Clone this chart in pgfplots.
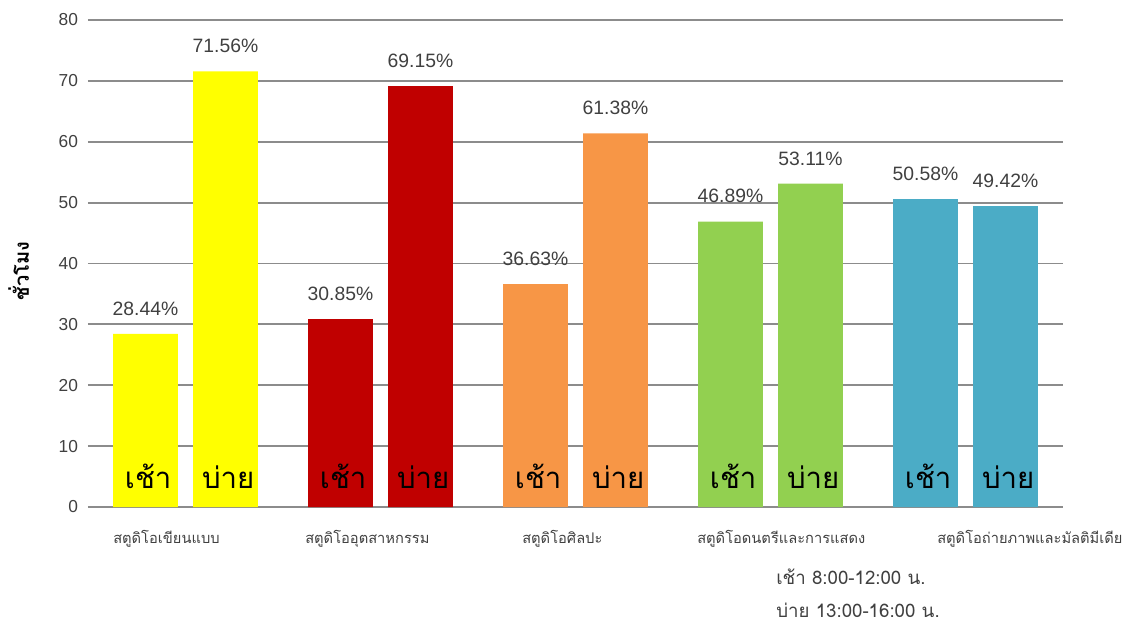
\documentclass[border=0pt]{standalone}
\usepackage{pgfplots}
\pgfplotsset{compat=1.18}
\usepackage{fontspec}
\setmainfont{Liberation Sans}
\newfontfamily\thaifont[Script=Thai]{Loma}
\definecolor{cY}{HTML}{FFFF00}
\definecolor{cR}{HTML}{C00000}
\definecolor{cO}{HTML}{F79646}
\definecolor{cG}{HTML}{92D050}
\definecolor{cT}{HTML}{4BACC6}
\definecolor{gridc}{HTML}{8C8C8C}
\definecolor{txt}{HTML}{404040}
\begin{document}
\begin{tikzpicture}
\useasboundingbox (-66pt,-89.25pt) rectangle (794.25pt,380.25pt);
\begin{axis}[
  at={(0pt,0pt)}, anchor=south west,
  scale only axis, width=731.25pt, height=365.25pt,
  xmin=0.5, xmax=5.5, ymin=0, ymax=80,
  ytick={0,10,...,80}, xtick=\empty,
  ymajorgrids, major grid style={gridc, line width=1.4pt},
  axis line style={draw=none}, major tick length=0pt,
  /pgf/number format/assume math mode=true,
  yticklabel style={font=\fontsize{13}{15}\selectfont, text=txt, xshift=-4pt},
  ybar, bar width=0.333, bar shift=0pt,
  clip=false,
  nodes near coords={\pgfmathprintnumber[fixed,fixed zerofill,precision=2,assume math mode=true]{\pgfplotspointmeta}\%},
  nodes near coords style={anchor=base, yshift=14pt, font=\fontsize{14.5}{16}\selectfont, text=txt},
]
\addplot[draw=none, fill=cY] coordinates {(0.795,28.44) (1.205,71.56)};
\addplot[draw=none, fill=cR] coordinates {(1.795,30.85) (2.205,69.15)};
\addplot[draw=none, fill=cO] coordinates {(2.795,36.63) (3.205,61.38)};
\addplot[draw=none, fill=cG] coordinates {(3.795,46.89) (4.205,53.11)};
\addplot[draw=none, fill=cT] coordinates {(4.795,50.58) (5.205,49.42)};
\pgfplotsinvokeforeach{1,2,3,4,5}{
  \node[anchor=base, font=\thaifont\fontsize{22}{24}\selectfont, text=black, xshift=2pt] at (axis cs:#1-0.205,0) [yshift=14pt] {เช้า};
  \node[anchor=base, font=\thaifont\fontsize{22}{24}\selectfont, text=black, xshift=2pt] at (axis cs:#1+0.205,0) [yshift=14pt] {บ่าย};
}
\end{axis}
\node[rotate=90, font=\thaifont\bfseries\fontsize{15}{17}\selectfont] at (-52pt,177pt) {ชั่วโมง};
\begin{scope}[every node/.style={anchor=base west, inner sep=0pt, font=\thaifont\fontsize{11}{13}\selectfont, text=txt}]
\node at (18.75pt,-27pt) {สตูดิโอเขียนแบบ};
\node at (162.75pt,-27pt) {สตูดิโออุตสาหกรรม};
\node at (325.5pt,-27pt) {สตูดิโอศิลปะ};
\node at (456.75pt,-27pt) {สตูดิโอดนตรีและการแสดง};
\node at (636.75pt,-27pt) {สตูดิโอถ่ายภาพและมัลติมีเดีย};
\end{scope}
\begin{scope}[every node/.style={anchor=base west, inner sep=0pt, font=\thaifont\fontsize{14}{16}\selectfont, text=txt}]
\node at (516pt,-58pt) {เช้า 8:00-12:00 น.};
\node at (516pt,-82.5pt) {บ่าย 13:00-16:00 น.};
\end{scope}
\end{tikzpicture}
\end{document}
